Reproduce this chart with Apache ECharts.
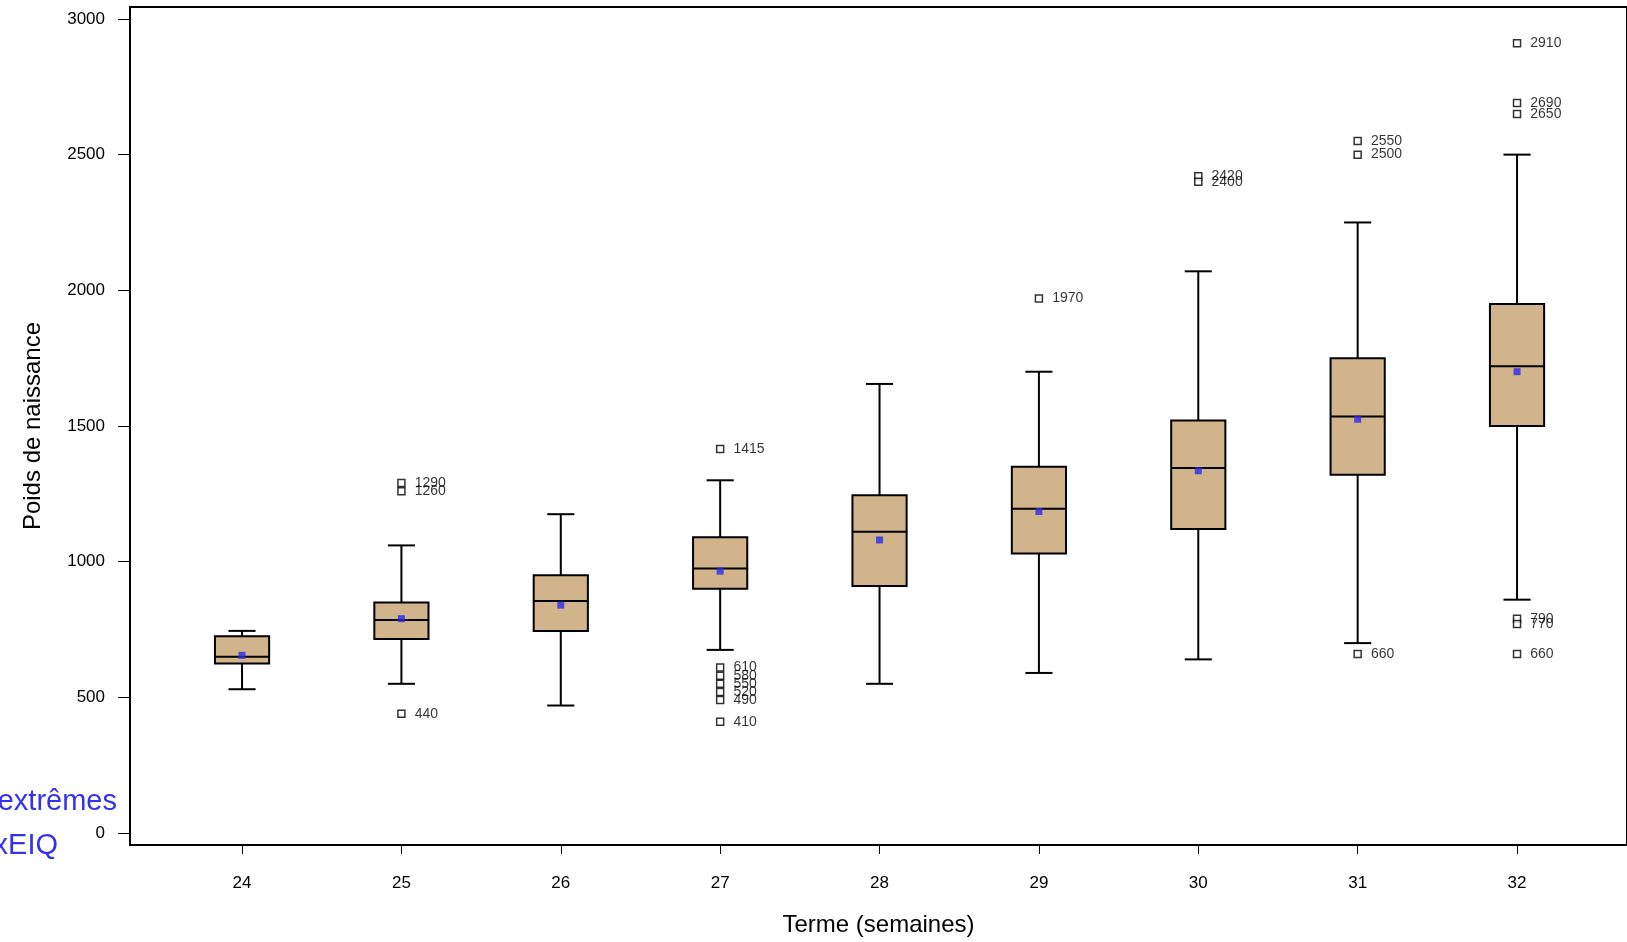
<!DOCTYPE html>
<html><head><meta charset="utf-8">
<script src="https://cdn.jsdelivr.net/npm/echarts@6/dist/echarts.min.js"></script>
<style>html,body{margin:0;background:#fff}#c{width:1627px;height:942px}</style>
</head><body><div id="c"></div>
<script>
'use strict'
// semaines de terme
const terms = [24, 25, 26, 27, 28, 29, 30, 31, 32]
// [moustache basse, Q1, médiane, Q3, moustache haute]
const boxes = [
  [530, 625, 650, 725, 745],
  [550, 715, 785, 850, 1060],
  [470, 745, 855, 950, 1175],
  [675, 900, 975, 1090, 1300],
  [550, 910, 1110, 1245, 1655],
  [590, 1030, 1195, 1350, 1700],
  [640, 1120, 1345, 1520, 2070],
  [700, 1320, 1535, 1750, 2250],
  [860, 1500, 1720, 1950, 2500]
]
const means = [655, 790, 840, 965, 1080, 1185, 1335, 1525, 1700]
// valeurs extrêmes [terme, poids]
const outliers = [
  [25, 1290], [25, 1260], [25, 440],
  [27, 1415], [27, 610], [27, 580], [27, 550], [27, 520], [27, 490], [27, 410],
  [29, 1970],
  [30, 2420], [30, 2400],
  [31, 2550], [31, 2500], [31, 660],
  [32, 2910], [32, 2690], [32, 2650], [32, 790], [32, 770], [32, 660]
]
const yTicks = [0, 500, 1000, 1500, 2000, 2500, 3000]

const chart = echarts.init(document.getElementById('c'))
const boxData = terms.map((t, i) => [t].concat(boxes[i]))

function renderBox(params, api) {
  const x = api.value(0)
  const lo = api.coord([x, api.value(1)])
  const q1 = api.coord([x, api.value(2)])
  const med = api.coord([x, api.value(3)])
  const q3 = api.coord([x, api.value(4)])
  const hi = api.coord([x, api.value(5)])
  const bw = api.size([0.34, 0])[0]
  const cw = api.size([0.17, 0])[0]
  const cx = lo[0]
  const ls = { stroke: '#000', lineWidth: 2 }
  return {
    type: 'group',
    children: [
      { type: 'line', shape: { x1: cx, y1: hi[1], x2: cx, y2: q3[1] }, style: ls },
      { type: 'line', shape: { x1: cx, y1: q1[1], x2: cx, y2: lo[1] }, style: ls },
      { type: 'line', shape: { x1: cx - cw / 2, y1: hi[1], x2: cx + cw / 2, y2: hi[1] }, style: ls },
      { type: 'line', shape: { x1: cx - cw / 2, y1: lo[1], x2: cx + cw / 2, y2: lo[1] }, style: ls },
      { type: 'rect', shape: { x: cx - bw / 2, y: q3[1], width: bw, height: q1[1] - q3[1] }, style: { fill: '#D2B48C', stroke: '#000', lineWidth: 2 } },
      { type: 'line', shape: { x1: cx - bw / 2, y1: med[1], x2: cx + bw / 2, y2: med[1] }, style: ls }
    ]
  }
}

chart.setOption({
  animation: false,
  textStyle: { fontFamily: 'Liberation Sans, Arial, sans-serif' },
  grid: { left: 130, right: 0, top: 7, bottom: 87, show: true, borderColor: '#000', borderWidth: 2 },
  xAxis: {
    type: 'value', min: 23.297, max: 32.69,
    name: 'Terme (semaines)', nameLocation: 'middle', nameGap: 68,
    nameTextStyle: { fontSize: 24, color: '#000' },
    axisLine: { onZero: false, lineStyle: { color: '#000', width: 2 } },
    axisTick: { show: true, length: 9, lineStyle: { color: '#000' }, customValues: terms },
    axisLabel: { color: '#000', fontSize: 17, margin: 30, customValues: terms },
    splitLine: { show: false }
  },
  yAxis: {
    type: 'value', min: -44, max: 3044,
    name: 'Poids de naissance', nameLocation: 'middle', nameGap: 85,
    nameTextStyle: { fontSize: 24, color: '#000' },
    axisLine: { show: true, lineStyle: { color: '#000', width: 2 } },
    axisTick: { show: true, length: 12, lineStyle: { color: '#000' }, customValues: yTicks },
    axisLabel: { color: '#000', fontSize: 17, margin: 25, customValues: yTicks, formatter: v => String(v) },
    splitLine: { show: false }
  },
  series: [
    { type: 'custom', renderItem: renderBox, data: boxData, z: 2 },
    {
      type: 'scatter', data: terms.map((t, i) => [t, means[i]]),
      symbol: 'rect', symbolSize: 7, itemStyle: { color: '#2a2ae8' }, z: 4
    },
    {
      type: 'scatter', data: outliers, symbol: 'rect', symbolSize: 7,
      itemStyle: { color: '#fff', borderColor: '#000', borderWidth: 1.5 }, z: 3,
      label: { show: true, position: 'right', distance: 9, fontSize: 14, color: '#000',
        formatter: p => String(p.value[1]) },
      labelLayout: { hideOverlap: false }
    }
  ],
  graphic: [
    { type: 'text', right: 1627 - 117, top: 787, style: { text: 'Valeurs extrêmes', fontSize: 29, fill: '#3333ee', fontFamily: 'Liberation Sans' } },
    { type: 'text', right: 1627 - 58, top: 831, style: { text: '1,5xEIQ', fontSize: 29, fill: '#3333ee', fontFamily: 'Liberation Sans' } }
  ]
})
</script></body></html>
